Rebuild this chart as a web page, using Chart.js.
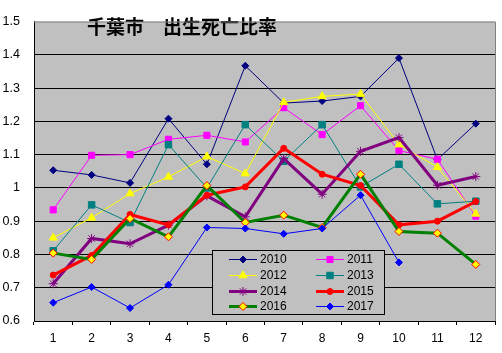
<!DOCTYPE html>
<html><head><meta charset="utf-8">
<script src="https://cdn.jsdelivr.net/npm/chart.js@4.4.1/dist/chart.umd.min.js"></script>
<style>html,body{margin:0;padding:0;background:#fff}#wrap{position:relative;width:502px;height:353px}</style>
</head><body><div id="wrap"><canvas id="c" width="502" height="353"></canvas></div>
<script>
const titleText = '千葉市　出生死亡比率';
const months = ['1','2','3','4','5','6','7','8','9','10','11','12'];
const seriesNames = ['2010','2011','2012','2013','2014','2015','2016','2017'];
const y2010 = [1.053,1.039,1.015,1.208,1.071,1.367,1.255,1.261,1.275,1.390,1.085,1.193];
const y2011 = [0.934,1.098,1.100,1.146,1.158,1.138,1.241,1.160,1.247,1.112,1.086,0.915];
const y2012 = [0.850,0.910,0.983,1.033,1.094,1.043,1.257,1.275,1.282,1.130,1.062,0.922];
const y2013 = [0.811,0.949,0.896,1.130,1.000,1.190,1.080,1.190,1.003,1.071,0.952,0.960];
const y2014 = [0.712,0.848,0.832,0.888,0.976,0.913,1.088,0.981,1.110,1.151,1.008,1.034];
const y2015 = [0.738,0.797,0.920,0.889,0.978,1.003,1.119,1.041,1.007,0.889,0.900,0.959];
const y2016 = [0.804,0.785,0.908,0.853,1.007,0.896,0.918,0.881,1.041,0.869,0.864,0.770];
const y2017 = [0.655,0.702,0.639,0.709,0.881,0.878,0.862,0.878,0.978,0.776,null,null];
const yMin = 0.6, yMax = 1.5, yStep = 0.1;

const values = [y2010,y2011,y2012,y2013,y2014,y2015,y2016,y2017];
const styles = [
  {c:'#000080', bg:'#000080', w:1, ps:'rectRot', r:3.5},
  {c:'#FF00FF', bg:'#FF00FF', w:1, ps:'rect', r:4.3},
  {c:'#FFFF00', bg:'#FFFF00', w:1, ps:'triangle', r:4.6},
  {c:'#008080', bg:'#008080', w:1, ps:'rect', r:4.6},
  {c:'#800080', bg:'#800080', w:3, ps:'star', r:4.5, pb:'#800080'},
  {c:'#FF0000', bg:'#FF0000', w:3, ps:'circle', r:3},
  {c:'#008000', bg:'#FFFF00', w:3, ps:'rectRot', r:4, pb:'#FF0000'},
  {c:'#0000FF', bg:'#0000FF', w:1, ps:'rectRot', r:3.5}
];
const datasets = seriesNames.map((n,i)=>({
  label:n, data:values[i], borderColor:styles[i].c, backgroundColor:styles[i].bg,
  borderWidth:styles[i].w, pointStyle:styles[i].ps, pointRadius:styles[i].r,
  pointHoverRadius:styles[i].r, pointBackgroundColor:styles[i].bg,
  pointBorderColor:styles[i].pb||styles[i].c, pointBorderWidth:1,
  tension:0, spanGaps:false, order:8-i
}));

const FONT = '"Liberation Sans", Arial, sans-serif';

const bgPlugin = {
  id:'bg',
  beforeDraw(chart){
    const {ctx, chartArea:a} = chart;
    ctx.save();
    ctx.fillStyle='#fff'; ctx.fillRect(0,0,chart.width,chart.height);
    ctx.fillStyle='#C0C0C0'; ctx.fillRect(a.left,a.top,a.right-a.left,a.bottom-a.top);
    ctx.restore();
  },
  afterDraw(chart){
    const {ctx, chartArea:a} = chart;
    ctx.save();
    ctx.strokeStyle='#808080'; ctx.lineWidth=1;
    ctx.beginPath();
    ctx.moveTo(a.left, a.top+0.5); ctx.lineTo(a.right+0.5, a.top+0.5); ctx.lineTo(a.right+0.5, a.bottom);
    ctx.stroke();
    ctx.restore();
  }
};

const titlePlugin = {
  id:'innerTitle',
  afterDatasetsDraw(chart){
    const ctx = chart.ctx;
    ctx.save();
    ctx.font = 'bold 19px "Noto Sans CJK JP", sans-serif';
    ctx.fillStyle='#000'; ctx.textAlign='left'; ctx.textBaseline='middle';
    ctx.fillText(titleText, 87, 27);
    ctx.restore();
  }
};

function marker(ctx, ds, x, y){
  ctx.save();
  ctx.fillStyle = ds.pointBackgroundColor;
  ctx.strokeStyle = ds.pointBorderColor;
  ctx.lineWidth = ds.pointBorderWidth;
  const opts = {pointStyle:ds.pointStyle, radius:ds.pointRadius, rotation:0, borderWidth:ds.pointBorderWidth};
  if (Chart.helpers && Chart.helpers.drawPoint) Chart.helpers.drawPoint(ctx, opts, x, y);
  ctx.restore();
}

const legendPlugin = {
  id:'boxLegend',
  afterDatasetsDraw(chart){
    const ctx = chart.ctx;
    const bx=212.5, by=250.5, bw=172, bh=64;
    ctx.save();
    ctx.fillStyle='#C0C0C0'; ctx.fillRect(bx,by,bw,bh);
    ctx.strokeStyle='#000'; ctx.lineWidth=1; ctx.strokeRect(bx,by,bw,bh);
    const rows=[259,275,291,306], cols=[229,316];
    ctx.font = '12px ' + FONT; ctx.textBaseline='middle'; ctx.textAlign='left';
    chart.data.datasets.forEach((ds,i)=>{
      const cx = cols[i%2], cy = rows[Math.floor(i/2)];
      ctx.strokeStyle = ds.borderColor; ctx.lineWidth = ds.borderWidth;
      ctx.beginPath(); ctx.moveTo(cx, cy+0.5); ctx.lineTo(cx+28, cy+0.5); ctx.stroke();
      marker(ctx, ds, cx+14, cy+0.5);
      ctx.fillStyle='#000';
      ctx.fillText(ds.label, cx+31, cy+1);
    });
    ctx.restore();
  }
};

new Chart(document.getElementById('c'), {
  type:'line',
  data:{labels:months, datasets},
  plugins:[bgPlugin, titlePlugin, legendPlugin],
  options:{
    responsive:false, animation:false, devicePixelRatio:1,
    layout:{padding:{top:12,right:7,left:0,bottom:0}},
    plugins:{legend:{display:false}, title:{display:false}, tooltip:{enabled:false}},
    scales:{
      x:{
        type:'category', offset:true,
        grid:{display:true, drawOnChartArea:false, drawTicks:true, tickLength:4, color:'#000', offset:true},
        border:{display:true, color:'#000', width:1},
        ticks:{color:'#000', font:{family:FONT, size:12}, padding:6, maxRotation:0, autoSkip:false},
        afterFit(s){ s.height = 32; }
      },
      y:{
        min:yMin, max:yMax,
        grid:{drawTicks:false, color:(c)=> (Math.abs(c.tick.value - yMax) < 1e-6 ? 'rgba(0,0,0,0)' : '#000'), lineWidth:1},
        border:{display:true, color:'#000', width:1},
        ticks:{stepSize:yStep, color:'#000', font:{family:FONT, size:12.5}, padding:14,
          callback:(v)=> String(Number(v.toFixed(1)))},
        afterFit(s){ s.width = 34; }
      }
    }
  }
});
</script></body></html>
